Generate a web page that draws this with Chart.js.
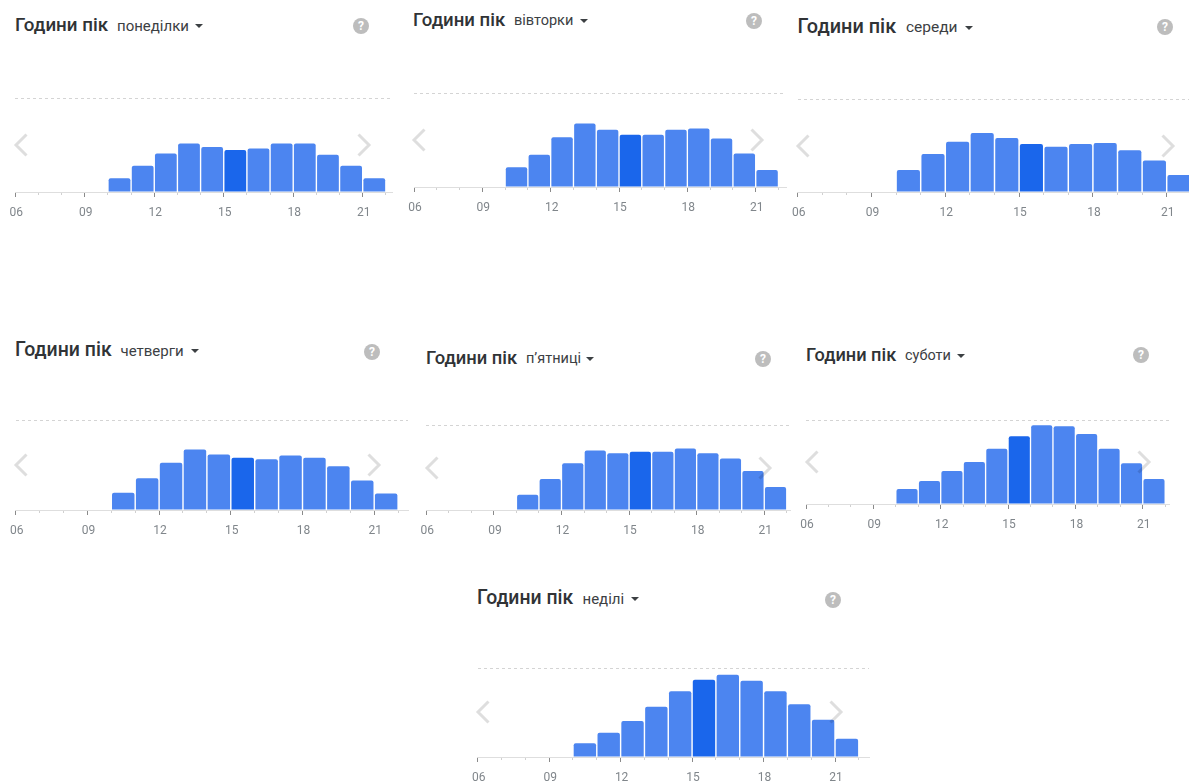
<!DOCTYPE html>
<html lang="uk">
<head>
<meta charset="utf-8">
<title>Години пік</title>
<script src="https://cdn.jsdelivr.net/npm/chart.js@4/dist/chart.umd.min.js"></script>
<style>
  html, body { margin: 0; padding: 0; background: #fff; }
  body { position: relative; width: 1189px; height: 782px; overflow: hidden; font-family: Roboto, sans-serif; }
  canvas { position: absolute; }
  .title, .day { position: absolute; white-space: nowrap; line-height: 1; transform: translateY(-50%); color: #3c4043; }
  .title { font-weight: 500; color: #303336; }
  .caret { position: absolute; width: 0; height: 0; border-left: 4.5px solid transparent; border-right: 4.5px solid transparent; border-top: 4.5px solid #3c4043; }
  .help { position: absolute; width: 16px; height: 16px; border-radius: 50%; background: #bdbdbd; color: #fff; font-size: 12px; font-weight: 700; line-height: 16px; text-align: center; }
  svg.nav { position: absolute; width: 14px; height: 24px; overflow: visible; }
</style>
</head>
<body>
<script>
const hours = [6, 7, 8, 9, 10, 11, 12, 13, 14, 15, 16, 17, 18, 19, 20, 21];
const tickLabels = { 6: '06', 9: '09', 12: '12', 15: '15', 18: '18', 21: '21' };
const currentHour = 15;

const days = ['понеділки', 'вівторки', 'середи', 'четверги', 'п’ятниці', 'суботи', 'неділі'];

const monday = [0, 0, 0, 0, 14.6, 27.8, 40.9, 51.6, 48, 44.8, 46.3, 51.6, 51.6, 39.5, 27.8, 14.6];
const tuesday = [0, 0, 0, 0, 21, 34.2, 53, 67.6, 60.9, 55.5, 55.5, 60.9, 62.3, 51.6, 35.6, 18.1];
const wednesday = [0, 0, 0, 0, 23.7, 40.9, 54.1, 63.4, 58.1, 51.6, 48.7, 51.6, 52.7, 44.8, 34, 18.3];
const thursday = [0, 0, 0, 0, 19.3, 35.3, 52.4, 67.3, 61.7, 58, 56.5, 60.6, 58, 48.7, 32.7, 18.2];
const friday = [0, 0, 0, 0, 17.9, 36.6, 54.9, 70, 66.9, 68.5, 68.5, 72.4, 66.9, 60.7, 45.9, 27.2];
const saturday = [0, 0, 0, 0, 17.9, 27.4, 39.3, 50, 65.9, 80.6, 93.7, 92.5, 83.3, 65.9, 48.4, 29.8];
const sunday = [0, 0, 0, 0, 15.4, 27.3, 40.4, 56.6, 73.8, 86.9, 92.5, 85.8, 73.8, 59.2, 41.9, 20.6];
const week = [monday, tuesday, wednesday, thursday, friday, saturday, sunday];

// where each card sits: axis start/step/end, baseline, dashed line, header row
const cards = [
  { x0: 15.3, step: 23.16, right: 392.7, base: 192, dash: 98, titleX: 15, titleY: 25, titleSize: 18.8, dayX: 117, daySize: 15, caretX: 195, helpX: 361, helpY: 26, navY: 145, navL: 14, navR: 357 },
  { x0: 414, step: 22.78, right: 786, base: 187, dash: 93, titleX: 413, titleY: 20, titleSize: 18.6, dayX: 514, daySize: 14.5, caretX: 580, helpX: 754, helpY: 21, navY: 140, navL: 412, navR: 750 },
  { x0: 797.7, step: 24.6, right: 1195, base: 192, dash: 99, titleX: 797.5, titleY: 27, titleSize: 19.9, dayX: 906, daySize: 15.5, caretX: 965, helpX: 1165, helpY: 27, navY: 146, navL: 796, navR: 1161 },
  { x0: 15.7, step: 23.9, right: 408, base: 510, dash: 420, titleX: 15, titleY: 350, titleSize: 19.5, dayX: 120.5, daySize: 15, caretX: 191, helpX: 372, helpY: 351.5, navY: 465, navL: 14, navR: 367 },
  { x0: 426.3, step: 22.53, right: 790, base: 510, dash: 425, titleX: 426, titleY: 358, titleSize: 18.4, dayX: 526, daySize: 14.5, caretX: 586, helpX: 763, helpY: 359, navY: 468, navL: 425, navR: 758 },
  { x0: 806, step: 22.45, right: 1169, base: 504, dash: 420, titleX: 806, titleY: 355, titleSize: 18.2, dayX: 905, daySize: 14.5, caretX: 956.5, helpX: 1141, helpY: 355, navY: 462, navL: 805, navR: 1137 },
  { x0: 477.7, step: 23.82, right: 869, base: 757, dash: 668, titleX: 477, titleY: 598, titleSize: 19.4, dayX: 582.5, daySize: 15, caretX: 631, helpX: 833, helpY: 600, navY: 712, navL: 476, navR: 829 }
];

const PAD_X = 16;
const PAD_TOP = 4;
const AXIS_H = 30;

function addText(cls, text, x, y, size) {
  const el = document.createElement('div');
  el.className = cls;
  el.textContent = text;
  el.style.left = x + 'px';
  el.style.top = y + 'px';
  el.style.fontSize = size + 'px';
  document.body.appendChild(el);
}

function addChevron(x, y, points) {
  const ns = 'http://www.w3.org/2000/svg';
  const svg = document.createElementNS(ns, 'svg');
  svg.setAttribute('class', 'nav');
  svg.setAttribute('viewBox', '0 0 14 24');
  svg.style.left = x + 'px';
  svg.style.top = (y - 12) + 'px';
  svg.style.zIndex = 2;
  const line = document.createElementNS(ns, 'polyline');
  line.setAttribute('points', points);
  line.setAttribute('fill', 'none');
  line.setAttribute('stroke', 'rgba(0,0,0,0.13)');
  line.setAttribute('stroke-width', '3');
  svg.appendChild(line);
  document.body.appendChild(svg);
}

function isLabelled(c) {
  return !!(c.tick && tickLabels[c.tick.value]);
}

function drawCard(card, i) {
  addText('title', 'Години пік', card.titleX, card.titleY, card.titleSize);
  addText('day', days[i], card.dayX, card.titleY + 0.5, card.daySize);

  const caret = document.createElement('div');
  caret.className = 'caret';
  caret.style.left = card.caretX + 'px';
  caret.style.top = (card.titleY - 1) + 'px';
  document.body.appendChild(caret);

  const help = document.createElement('div');
  help.className = 'help';
  help.textContent = '?';
  help.style.left = (card.helpX - 8) + 'px';
  help.style.top = (card.helpY - 8) + 'px';
  document.body.appendChild(help);

  addChevron(card.navL, card.navY, '12.5,1.5 2,12 12.5,22.5');
  addChevron(card.navR, card.navY, '1.5,1.5 12,12 1.5,22.5');

  // canvas stays on whole pixels, the fraction of x0 goes into the padding
  const left = Math.floor(card.x0 - PAD_X);
  const canvas = document.createElement('canvas');
  canvas.style.left = left + 'px';
  canvas.style.top = (card.dash - PAD_TOP) + 'px';
  canvas.width = Math.ceil(card.right + PAD_X - left);
  canvas.height = card.base - card.dash + PAD_TOP + AXIS_H;
  document.body.appendChild(canvas);

  new Chart(canvas.getContext('2d'), {
    type: 'bar',
    data: {
      datasets: [{
        // each bar fills the hour that starts at its tick
        data: hours.map((h, k) => ({ x: h + 0.5, y: week[i][k] })),
        backgroundColor: hours.map(h => h === currentHour ? '#1a66eb' : '#4c85f0'),
        borderRadius: { topLeft: 2, topRight: 2, bottomLeft: 0, bottomRight: 0 },
        borderSkipped: false,
        borderWidth: 0,
        barPercentage: 1,
        categoryPercentage: 0.94
      }]
    },
    options: {
      responsive: false,
      animation: false,
      devicePixelRatio: 1,
      layout: {
        autoPadding: false,
        padding: { left: card.x0 - left, right: canvas.width - (card.right - left), top: PAD_TOP, bottom: 0 }
      },
      plugins: { legend: { display: false }, tooltip: { enabled: false } },
      scales: {
        x: {
          type: 'linear',
          offset: false,
          min: 6,
          max: 6 + (card.right - card.x0) / card.step,
          afterFit: s => { s.height = AXIS_H; },
          border: { color: '#dedede', width: 1 },
          grid: {
            offset: false,
            drawOnChartArea: false,
            tickLength: 5,
            tickWidth: 1,
            tickColor: c => isLabelled(c) ? '#8a8a8a' : '#d0d0d0',
            // hour ticks in between stay short
            tickBorderDash: c => isLabelled(c) ? [] : [2, 8]
          },
          ticks: {
            stepSize: 1,
            includeBounds: false,
            autoSkip: false,
            maxRotation: 0,
            padding: 9,
            labelOffset: 1,
            color: '#80868b',
            font: { family: 'Roboto', size: 12 },
            callback: v => tickLabels[v] || ''
          }
        },
        y: {
          min: 0,
          max: 100,
          afterFit: s => { s.width = 0; },
          border: { display: false, dash: [3, 3] },
          grid: {
            drawTicks: false,
            lineWidth: 1,
            color: c => (c.tick && c.tick.value === 100) ? '#d4d4d4' : 'transparent'
          },
          ticks: { display: false, stepSize: 100 }
        }
      }
    }
  });
}

cards.forEach(drawCard);
</script>
</body>
</html>
